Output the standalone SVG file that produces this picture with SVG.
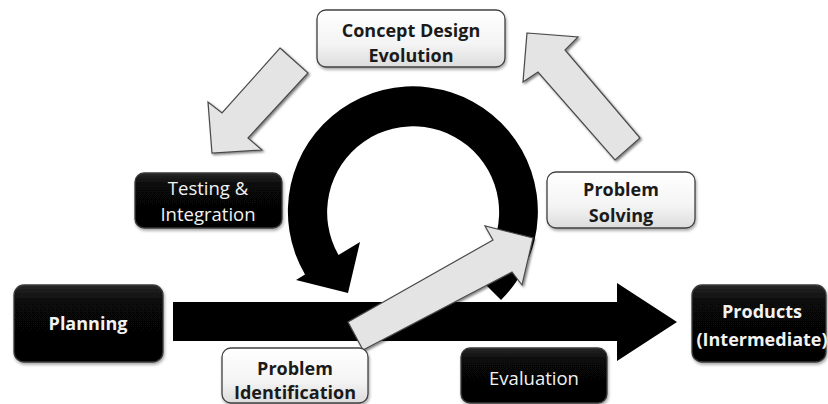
<svg xmlns="http://www.w3.org/2000/svg" width="828" height="404" viewBox="0 0 828 404">
<defs>
<linearGradient id="lg" x1="0" y1="0" x2="0" y2="1">
<stop offset="0" stop-color="#ffffff"/>
<stop offset="0.6" stop-color="#f4f4f4"/>
<stop offset="1" stop-color="#dcdcdc"/>
</linearGradient>
<linearGradient id="dg" x1="0" y1="0" x2="0" y2="1">
<stop offset="0" stop-color="#262626"/>
<stop offset="0.25" stop-color="#070707"/>
<stop offset="1" stop-color="#050505"/>
</linearGradient>
<filter id="sh" x="-10%" y="-10%" width="125%" height="135%">
<feDropShadow dx="1" dy="2" stdDeviation="1.5" flood-color="#000" flood-opacity="0.35"/>
</filter>
<filter id="ash" x="-10%" y="-10%" width="125%" height="125%">
<feDropShadow dx="1.5" dy="1.5" stdDeviation="0.8" flood-color="#000" flood-opacity="0.5"/>
</filter>
</defs>
<style>
.light{fill:url(#lg);stroke:#404040;stroke-width:1.3;filter:url(#sh)}
.dark{fill:url(#dg);stroke:#3a3a3a;stroke-width:1.3;filter:url(#sh)}
.tb{font-family:"Open Sans","Liberation Sans",sans-serif;font-weight:700;font-size:18px;text-anchor:middle;fill:#1a1a1a}
.tw{font-family:"Open Sans","Liberation Sans",sans-serif;font-weight:700;font-size:18px;text-anchor:middle;fill:#f2f2f2}
.tr{font-family:"Open Sans","Liberation Sans",sans-serif;font-weight:400;font-size:18.5px;text-anchor:middle;fill:#f2f2f2}
.garrow{fill:#e4e4e4;stroke:#4a4a4a;stroke-width:1.2;stroke-linejoin:miter;filter:url(#ash)}
</style>
<g id="connectors">
<path id="cycle" d="M501,300 A125,125 0 1 0 305,274.5 L296,280 L348,293 L360,242 L338.5,255 A86,86 0 1 1 474,273 Z" fill="#000"/>
<polygon id="main-arrow" points="173,302 617,302 617,283 677,322 617,361 617,341 173,341" fill="#000"/>
<polygon id="up-arrow" class="garrow" points="363,350 348,322 493,240 485,226 533,238 522,285 512,272"/>
<polygon id="arrow-concept-testing" class="garrow" points="280,48 308,73 248,138 262,150 212,153 208,102 222,113"/>
<polygon id="arrow-solving-concept" class="garrow" points="527,33 578,37 565,50 640,138 615,160 538,72 523,82"/>
</g>
<g id="concept">
<rect class="light" x="317" y="10" width="188" height="57" rx="9"/>
<text class="tb" x="411" y="37">Concept Design</text>
<text class="tb" x="411" y="62">Evolution</text>
</g>
<g id="testing">
<rect class="dark" x="135" y="173" width="147" height="55" rx="9"/>
<text class="tr" x="208" y="195">Testing &amp;</text>
<text class="tr" x="208" y="221">Integration</text>
</g>
<g id="solving">
<rect class="light" x="547" y="172" width="148" height="56" rx="9"/>
<text class="tb" x="621" y="196">Problem</text>
<text class="tb" x="621" y="222">Solving</text>
</g>
<g id="planning">
<rect class="dark" x="14" y="285" width="149" height="77" rx="10"/>
<text class="tw" x="88" y="330">Planning</text>
</g>
<g id="identification">
<rect class="light" x="222" y="348" width="146" height="55" rx="9"/>
<text class="tb" x="295" y="375">Problem</text>
<text class="tb" x="295" y="399">Identification</text>
</g>
<g id="evaluation">
<rect class="dark" x="461" y="348" width="146" height="55" rx="9"/>
<text class="tr" x="534" y="385">Evaluation</text>
</g>
<g id="products">
<rect class="dark" x="692" y="285" width="134" height="77" rx="10"/>
<text class="tw" x="762" y="318">Products</text>
<text class="tw" x="762" y="346">(Intermediate)</text>
</g>
</svg>
